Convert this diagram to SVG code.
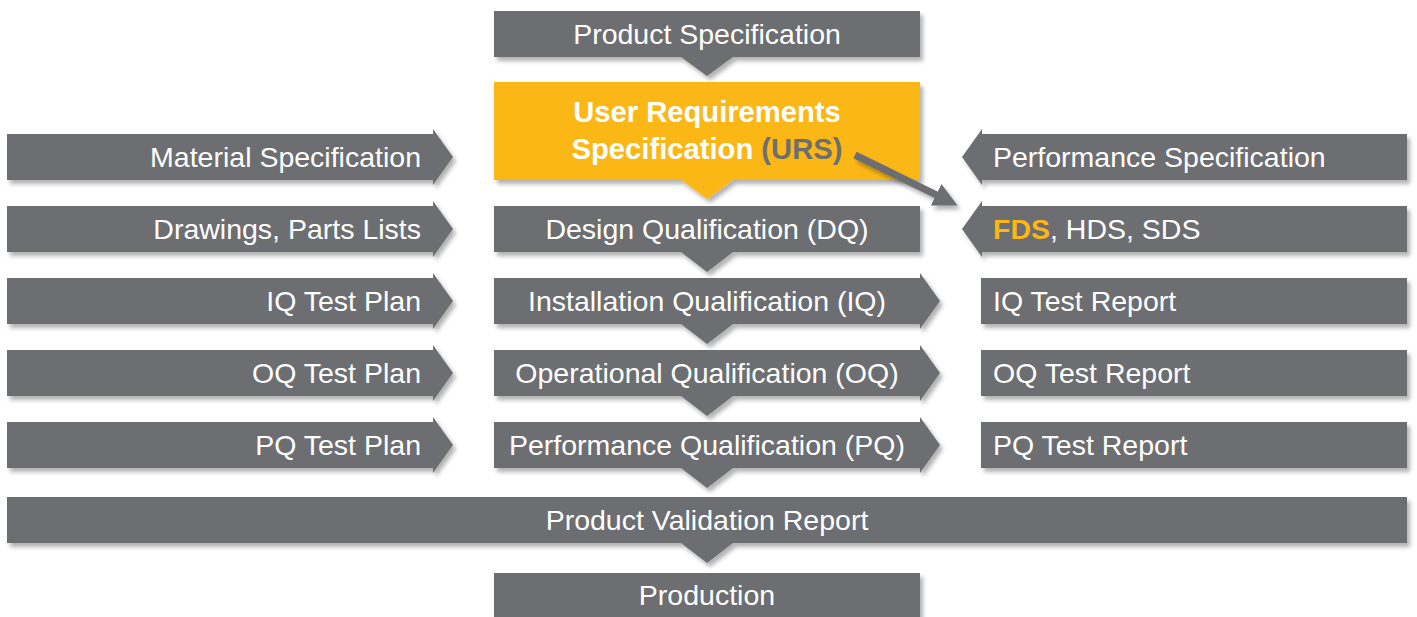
<svg xmlns="http://www.w3.org/2000/svg" width="1417" height="617" viewBox="0 0 1417 617">
<defs>
<filter id="sh" x="-5%" y="-20%" width="110%" height="150%">
<feDropShadow dx="3" dy="4" stdDeviation="2.2" flood-color="#000" flood-opacity="0.3"/>
</filter>
<filter id="shl" filterUnits="userSpaceOnUse" x="830" y="130" width="160" height="110">
<feDropShadow dx="3" dy="4" stdDeviation="2.2" flood-color="#000" flood-opacity="0.3"/>
</filter>
<marker id="ah" viewBox="0 0 24 24" refX="6" refY="12" markerWidth="24" markerHeight="24" markerUnits="userSpaceOnUse" orient="auto">
<path d="M0,0 L24,12 L0,24 Z" fill="#6d6e71"/>
</marker>
<style>
.g{fill:#6d6e71;filter:url(#sh)}
.y{fill:#fbb715;filter:url(#sh)}
text{font-family:"Liberation Sans",Arial,sans-serif;font-size:28.5px;fill:#fff}
.c{text-anchor:middle}
.r{text-anchor:end}
.b{font-weight:bold}
.bb{font-weight:bold;font-size:29.2px}
.gt{fill:#6d6e71}
.yt{fill:#fbb715}
</style>
</defs>
<rect width="1417" height="617" fill="#fff"/>

<g id="product-spec">
<path class="g" d="M494,11 H920 V57 H733 L707,76 L681,57 H494 Z"/>
<text class="c" x="707" y="44">Product Specification</text>
</g>

<g id="urs">
<path class="y" d="M494,82 H920 V180 H733 L707,199 L681,180 H494 Z"/>
<text class="c bb" x="707" y="122">User Requirements</text>
<text class="c bb" x="707" y="159">Specification <tspan class="gt">(URS)</tspan></text>
</g>

<g id="material-spec">
<path class="g" d="M7,134 H433 V129 L453,157 L433,185 V180 H7 Z"/>
<text class="r" x="421" y="167">Material Specification</text>
</g>

<g id="performance-spec">
<path class="g" d="M982,134 H1407 V180 H982 V185 L962,157 L982,129 Z"/>
<text x="993" y="167">Performance Specification</text>
</g>

<g id="drawings">
<path class="g" d="M7,206 H433 V201 L453,229 L433,257 V252 H7 Z"/>
<text class="r" x="421" y="239">Drawings, Parts Lists</text>
</g>

<g id="dq">
<path class="g" d="M494,206 H920 V252 H733 L707,272 L681,252 H494 Z"/>
<text class="c" x="707" y="239">Design Qualification (DQ)</text>
</g>

<g id="fds">
<path class="g" d="M982,206 H1407 V252 H982 V257 L962,229 L982,201 Z"/>
<text x="993" y="239"><tspan class="b yt">FDS</tspan>, HDS, SDS</text>
</g>

<g id="iq-plan">
<path class="g" d="M7,278 H433 V273 L453,301 L433,329 V324 H7 Z"/>
<text class="r" x="421" y="311">IQ Test Plan</text>
</g>

<g id="iq">
<path class="g" d="M494,278 H920 V273 L940,301 L920,329 V324 H733 L707,344 L681,324 H494 Z"/>
<text class="c" x="707" y="311">Installation Qualification (IQ)</text>
</g>

<g id="iq-report">
<rect class="g" x="981" y="278" width="426" height="46"/>
<text x="993" y="311">IQ Test Report</text>
</g>

<g id="oq-plan">
<path class="g" d="M7,350 H433 V345 L453,373 L433,401 V396 H7 Z"/>
<text class="r" x="421" y="383">OQ Test Plan</text>
</g>

<g id="oq">
<path class="g" d="M494,350 H920 V345 L940,373 L920,401 V396 H733 L707,416 L681,396 H494 Z"/>
<text class="c" x="707" y="383">Operational Qualification (OQ)</text>
</g>

<g id="oq-report">
<rect class="g" x="981" y="350" width="426" height="46"/>
<text x="993" y="383">OQ Test Report</text>
</g>

<g id="pq-plan">
<path class="g" d="M7,422 H433 V417 L453,445 L433,473 V468 H7 Z"/>
<text class="r" x="421" y="455">PQ Test Plan</text>
</g>

<g id="pq">
<path class="g" d="M494,422 H920 V417 L940,445 L920,473 V468 H733 L707,488 L681,468 H494 Z"/>
<text class="c" x="707" y="455">Performance Qualification (PQ)</text>
</g>

<g id="pq-report">
<rect class="g" x="981" y="422" width="426" height="46"/>
<text x="993" y="455">PQ Test Report</text>
</g>

<g id="validation-report">
<path class="g" d="M7,497 H1407 V543 H733 L707,563 L681,543 H7 Z"/>
<text class="c" x="707" y="530">Product Validation Report</text>
</g>

<g id="production">
<rect class="g" x="494" y="573" width="426" height="50"/>
<text class="c" x="707" y="605">Production</text>
</g>

<g id="connectors">
<line x1="855" y1="155" x2="941.5" y2="197.5" stroke="#6d6e71" stroke-width="7" marker-end="url(#ah)" filter="url(#shl)"/>
</g>
</svg>
